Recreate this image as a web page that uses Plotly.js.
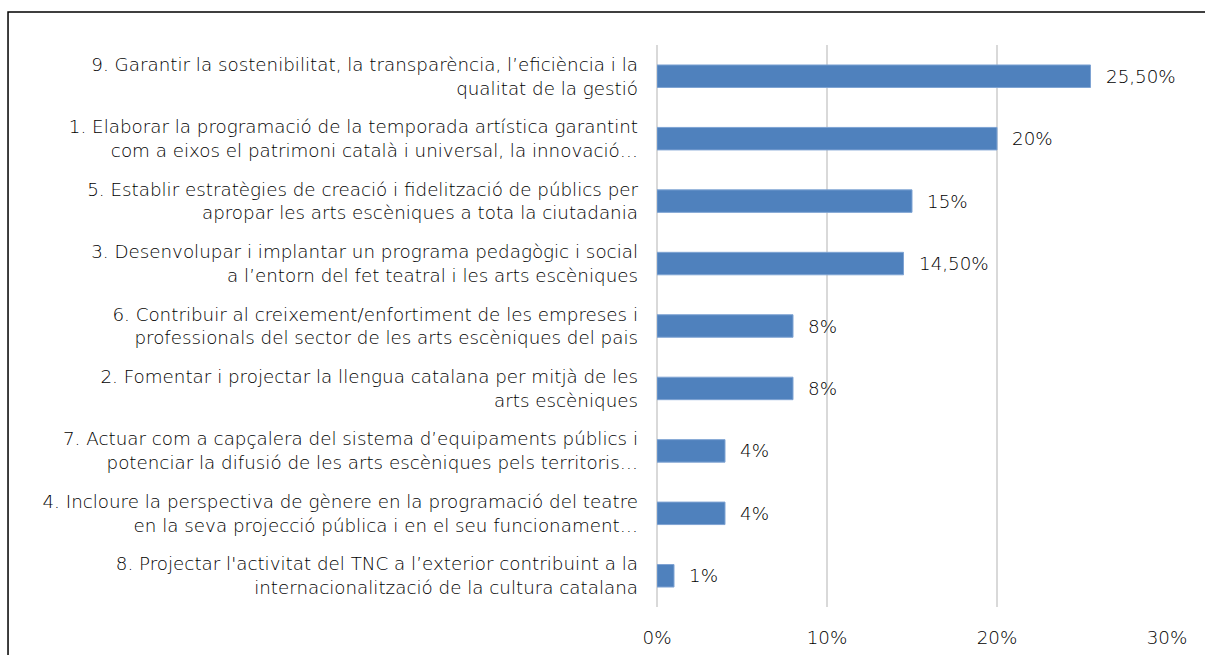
<!DOCTYPE html>
<html>
<head>
<meta charset="utf-8">
<script src="https://cdn.plot.ly/plotly-3.0.1.min.js"></script>
<style>
  html, body { margin: 0; padding: 0; background: #fff; }
  #myDiv { width: 1205px; height: 655px; }
</style>
</head>
<body>
<div id="myDiv"></div>
<script>
// categories, top to bottom as in the chart
var categories = [
    '9. Garantir la sostenibilitat, la transparència, l’eficiència i la<br>qualitat de la gestió',
    '1. Elaborar la programació de la temporada artística garantint<br>com a eixos el patrimoni català i universal, la innovació…',
    '5. Establir estratègies de creació i fidelització de públics per<br>apropar les arts escèniques a tota la ciutadania',
    '3. Desenvolupar i implantar un programa pedagògic i social<br>a l’entorn del fet teatral i les arts escèniques',
    '6. Contribuir al creixement/enfortiment de les empreses i<br>professionals del sector de les arts escèniques del pais',
    '2. Fomentar i projectar la llengua catalana per mitjà de les<br>arts escèniques',
    '7. Actuar com a capçalera del sistema d’equipaments públics i<br>potenciar la difusió de les arts escèniques pels territoris…',
    '4. Incloure la perspectiva de gènere en la programació del teatre<br>en la seva projecció pública i en el seu funcionament…',
    '8. Projectar l\'activitat del TNC a l’exterior contribuint a la<br>internacionalització de la cultura catalana'
];
var values = [25.5, 20, 15, 14.5, 8, 8, 4, 4, 1];
var valueLabels = ['25,50%', '20%', '15%', '14,50%', '8%', '8%', '4%', '4%', '1%'];
var xTicks = [0, 10, 20, 30];
var xTickLabels = ['0%', '10%', '20%', '30%'];

var textColor = '#000000';
var fontFamily = 'DejaVu Sans, Liberation Sans, Arial, sans-serif';

var trace1 = {
    x: values,
    y: categories,
    type: 'bar',
    orientation: 'h',
    width: 0.36,
    marker: {
        color: '#4f81bd',
        line: { color: '#7ea3d3', width: 1 }
    },
    hoverinfo: 'none'
};

// value labels sit a bit right of each bar end
var annotations = values.map(function (v, i) {
    return {
        x: v, y: categories[i], xref: 'x', yref: 'y',
        text: valueLabels[i], showarrow: false,
        xanchor: 'left', xshift: 13,
        font: { family: fontFamily, size: 18.3, color: textColor, weight: 200 }
    };
});

var layout = {
    width: 1205,
    height: 655,
    margin: { l: 657, r: 38, t: 45, b: 48 },
    paper_bgcolor: '#fff',
    plot_bgcolor: '#fff',
    showlegend: false,
    font: { family: fontFamily, size: 18.3, color: textColor, weight: 200 },
    xaxis: {
        range: [0, 30],
        tickvals: xTicks,
        ticktext: xTickLabels,
        showgrid: true,
        gridcolor: '#d9d9d9',
        gridwidth: 2,
        zeroline: true,
        zerolinecolor: '#d9d9d9',
        zerolinewidth: 2,
        showline: false,
        ticks: '',
        ticklabelstandoff: 18,
        fixedrange: true
    },
    yaxis: {
        autorange: 'reversed',
        showgrid: false,
        zeroline: false,
        showline: false,
        ticks: '',
        ticklabelstandoff: 18,
        fixedrange: true
    },
    annotations: annotations,
    shapes: [{
        type: 'rect', xref: 'paper', yref: 'paper',
        x0: -1.2725, x1: 1.2, y0: -0.3, y1: 1.0587,
        line: { color: '#000', width: 1.5 },
        fillcolor: 'rgba(0,0,0,0)',
        layer: 'below'
    }]
};

Plotly.newPlot('myDiv', [trace1], layout, { displayModeBar: false, staticPlot: true });
</script>
</body>
</html>
